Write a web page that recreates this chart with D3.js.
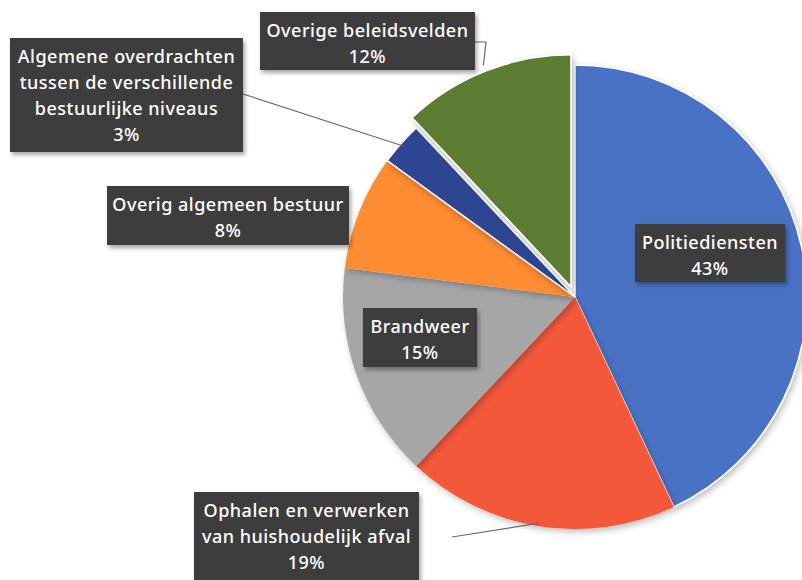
<!DOCTYPE html>
<html lang="nl">
<head>
  <meta charset="UTF-8">
  <title>Uitgaven per beleidsveld</title>
  <script src="https://d3js.org/d3.v7.min.js"></script>
  <style>
    body {
      margin: 0;
      background: #fff;
    }
    svg text {
      font-family: "Noto Sans", sans-serif;
      fill: #fff;
    }
  </style>
</head>
<body>
  <svg id="chart" width="802" height="580"></svg>
  <script>
    // data (clockwise from 12 o'clock)
    const labels = [
      ["Politiediensten"],
      ["Ophalen en verwerken", "van huishoudelijk afval"],
      ["Brandweer"],
      ["Overig algemeen bestuur"],
      ["Algemene overdrachten", "tussen de verschillende", "bestuurlijke niveaus"],
      ["Overige beleidsvelden"]
    ];
    const values = [43, 19, 15, 8, 3, 12];
    const colors = ["#4a72c4", "#f4583a", "#a6a6a6", "#fd8c31", "#2f4592", "#5b7b30"];

    // label box layout [x, y, w, h]
    const boxes = [
      [635, 224, 150, 58],
      [194, 492, 225, 96],
      [363, 308, 114, 59],
      [107, 186, 242, 59],
      [10, 38, 233, 114],
      [260, 12, 215, 58]
    ];

    const cx = 575, cy = 297, radius = 232;
    const explodeIdx = 5, explodeBy = 11;

    const svg = d3.select("#chart");

    const defs = svg.append("defs");
    const sh = defs.append("filter").attr("id", "boxShadow")
      .attr("x", "-10%").attr("y", "-10%").attr("width", "130%").attr("height", "140%");
    sh.append("feDropShadow").attr("dx", 2).attr("dy", 3).attr("stdDeviation", 2)
      .attr("flood-color", "#000").attr("flood-opacity", 0.35);
    const psh = defs.append("filter").attr("id", "pieShadow")
      .attr("x", "-10%").attr("y", "-10%").attr("width", "120%").attr("height", "120%");
    psh.append("feDropShadow").attr("dx", 2).attr("dy", 3).attr("stdDeviation", 3)
      .attr("flood-color", "#000").attr("flood-opacity", 0.25);

    const pie = d3.pie().sort(null).value(d => d);
    const arcs = pie(values);
    const arc = d3.arc().innerRadius(0).outerRadius(radius);

    const offset = (d, i) => {
      if (i !== explodeIdx) return [0, 0];
      const a = (d.startAngle + d.endAngle) / 2;
      return [Math.sin(a) * explodeBy, -Math.cos(a) * explodeBy];
    };

    const g = svg.append("g").attr("transform", `translate(${cx},${cy})`);

    g.selectAll("path.slice")
      .data(arcs)
      .join("path")
      .attr("class", "slice")
      .attr("transform", (d, i) => `translate(${offset(d, i)})`)
      .attr("d", arc)
      .attr("fill", (d, i) => colors[i])
      .attr("stroke", (d, i) => (i === explodeIdx || i === explodeIdx - 1 || i === 0) ? "#fff" : "none")
      .attr("stroke-width", 1.5)
      .attr("filter", "url(#pieShadow)");

    // leader lines for the labels that sit outside the pie
    const edgePoint = (i, r) => {
      const d = arcs[i];
      const a = (d.startAngle + d.endAngle) / 2;
      const o = offset(d, i);
      return [cx + o[0] + Math.sin(a) * r, cy + o[1] - Math.cos(a) * r];
    };

    const leaders = [
      { i: 4, pts: [[243, 94], edgePoint(4, radius - 4)] },
      { i: 5, pts: [[475, 42], [486, 42], edgePoint(5, radius + 6)] },
      { i: 1, pts: [[452, 537], edgePoint(1, radius - 3)] }
    ];

    svg.selectAll("path.leader")
      .data(leaders)
      .join("path")
      .attr("class", "leader")
      .attr("d", d => d3.line()(d.pts))
      .attr("fill", "none")
      .attr("stroke", "#6b6b6b")
      .attr("stroke-width", 1.2);

    // label boxes
    const lineH = 26;
    const lab = svg.selectAll("g.label")
      .data(arcs)
      .join("g")
      .attr("class", "label");

    lab.append("rect")
      .attr("x", (d, i) => boxes[i][0])
      .attr("y", (d, i) => boxes[i][1])
      .attr("width", (d, i) => boxes[i][2])
      .attr("height", (d, i) => boxes[i][3])
      .attr("fill", "#3d3d3d")
      .attr("filter", "url(#boxShadow)");

    lab.each(function(d, i) {
      const lines = labels[i].concat([d.data + "%"]);
      const b = boxes[i];
      const top = b[1] + 25;
      const t = d3.select(this).append("text")
        .attr("text-anchor", "middle")
        .attr("font-size", 18)
        .attr("font-weight", 500)
        .attr("letter-spacing", 0.5);
      lines.forEach((s, k) => {
        t.append("tspan")
          .attr("x", b[0] + b[2] / 2)
          .attr("y", top + k * lineH)
          .text(s);
      });
    });
  </script>
</body>
</html>
